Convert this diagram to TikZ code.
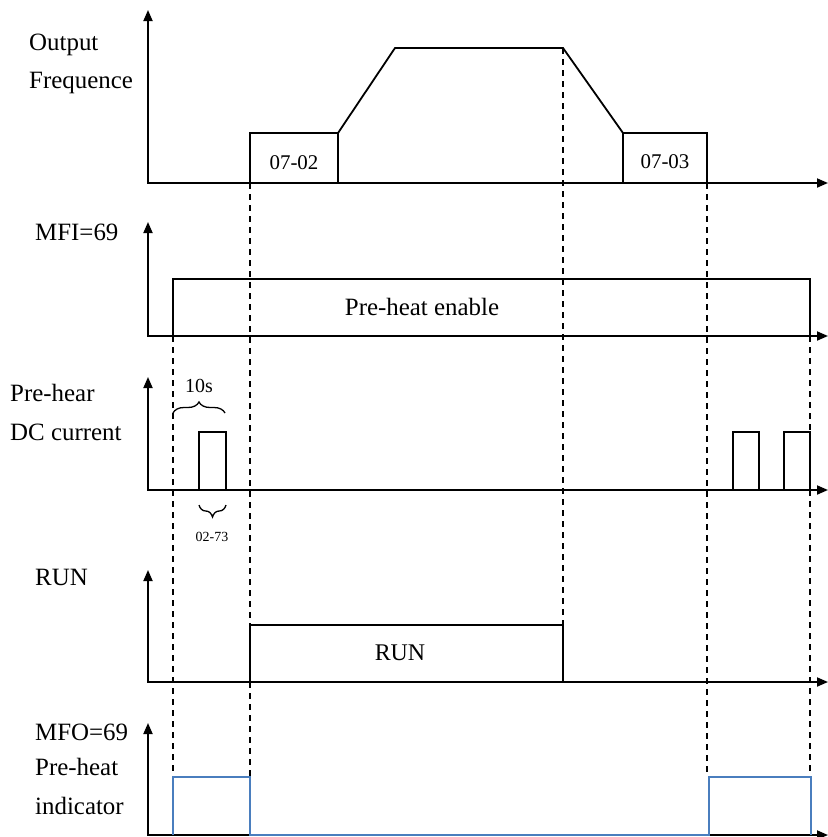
\documentclass[tikz,border=0pt]{standalone}
\usepackage{fontspec}
\setmainfont{Liberation Serif}
\usetikzlibrary{arrows.meta,decorations.pathreplacing}
\definecolor{bluesig}{RGB}{74,126,190}
\begin{document}
\begin{tikzpicture}[x=1bp,y=-1bp,
  axis/.style={line width=1.8bp,line join=miter,{Triangle[length=11bp,width=9bp]}-{Triangle[length=11bp,width=9bp]}},
  sig/.style={line width=1.8bp,line join=miter},
  bsig/.style={line width=1.8bp,line join=miter,draw=bluesig},
  guide/.style={line width=1.3bp,dash pattern=on 6bp off 5bp},
  brc/.style={line width=1.3bp,decorate},
  lab/.style={anchor=west,inner sep=0pt,font=\fontsize{25}{30}\selectfont},
  inlab/.style={inner sep=0pt,font=\fontsize{21}{25}\selectfont},
  smlab/.style={inner sep=0pt,font=\fontsize{14}{17}\selectfont}]
\useasboundingbox (0,0) rectangle (828,837);
% guides
\draw[guide] (173,336) -- (173,777);
\draw[guide] (250,183) -- (250,625);
\draw[guide] (250,682) -- (250,777);
\draw[guide] (563,48) -- (563,625);
\draw[guide] (707,183) -- (707,777);
\draw[guide] (810,336) -- (810,432);
\draw[guide] (810,490) -- (810,777);
% axes
\draw[axis] (148,10) -- (148,183) -- (828,183);
\draw[axis] (148,222) -- (148,336) -- (828,336);
\draw[axis] (148,377) -- (148,490) -- (828,490);
\draw[axis] (148,570) -- (148,682) -- (828,682);
\draw[axis] (148,723) -- (148,835) -- (828,835);
% panel 1
\draw[sig] (250,183) -- (250,133) -- (338,133) -- (395,48) -- (563,48) -- (623,133) -- (707,133) -- (707,183);
\draw[sig] (338,133) -- (338,183);
\draw[sig] (623,133) -- (623,183);
\node[inlab] (t0702) at (294,163) {07-02};
\node[inlab] (t0703) at (665,162) {07-03};
% panel 2
\draw[sig] (173,336) -- (173,279) -- (810,279) -- (810,336);
\node[lab,anchor=center] (tenable) at (422,307) {Pre-heat enable};
% panel 3
\draw[sig] (199,490) -- (199,432) -- (226,432) -- (226,490);
\draw[sig] (733,490) -- (733,432) -- (759,432) -- (759,490);
\draw[sig] (784,490) -- (784,432) -- (810,432) -- (810,490);
\draw[brc,decoration={brace,amplitude=11bp}] (173,413) -- (225,413);
\node[inlab,font=\fontsize{20}{24}\selectfont] (t10s) at (199,386) {10s};
\draw[brc,decoration={brace,amplitude=12bp,mirror}] (199,505) -- (226,505);
\node[smlab] (t0273) at (212,537) {02-73};
% panel 4
\draw[sig] (250,682) -- (250,625) -- (563,625) -- (563,682);
\node[inlab,font=\fontsize{24}{28}\selectfont] (trun) at (400,653) {RUN};
% panel 5
\draw[bsig] (173,835) -- (173,777) -- (250,777) -- (250,835) -- (709,835) -- (709,777) -- (811,777) -- (811,835);
% labels
\node[lab] (lout) at (29,45) {Output};
\node[lab] (lfreq) at (29,83) {Frequence};
\node[lab] (lmfi) at (35,232) {MFI=69};
\node[lab] (lph) at (10,393) {Pre-hear};
\node[lab] (ldc) at (10,432) {DC current};
\node[lab] (lrun) at (35,577) {RUN};
\node[lab] (lmfo) at (35,732) {MFO=69};
\node[lab] (lpre) at (35,767) {Pre-heat};
\node[lab] (lind) at (35,806) {indicator};
\end{tikzpicture}
\end{document}
